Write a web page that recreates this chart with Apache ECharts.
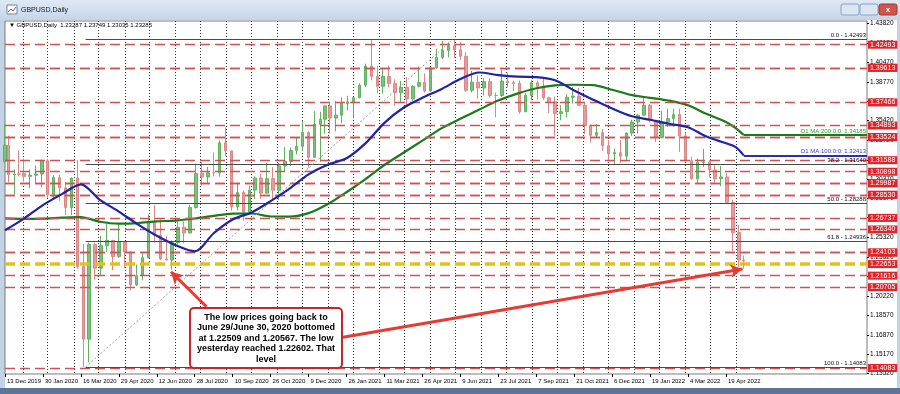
<!DOCTYPE html>
<html><head><meta charset="utf-8">
<script src="https://cdn.jsdelivr.net/npm/echarts@6/dist/echarts.min.js"></script>
<style>html,body{margin:0;padding:0;background:#c3d3e6;}#c{width:900px;height:394px;}</style>
</head><body><div id="c"></div>
<script>
const firstDay = '2019-12-13';
const lastBar = '2022-05-10';
const xLabelDates = ['2019-12-13','2020-01-30','2020-03-16','2020-04-29','2020-06-12','2020-07-28','2020-09-10','2020-10-26','2020-12-09','2021-01-26','2021-03-11','2021-04-26','2021-06-09','2021-07-23','2021-09-07','2021-10-21','2021-12-06','2022-01-19','2022-03-04','2022-04-19'];
// weekly candles (first = 13 Dec 2019 session, then weeks starting 16 Dec 2019 ... 9 May 2022)
const opens  = [1.3190,1.3330,1.3075,1.3080,1.3085,1.3060,1.3070,1.3080,1.3195,1.2900,1.3050,1.2960,1.2790,1.3045,1.2280,1.1650,1.2470,1.2265,1.2460,1.2505,1.2365,1.2490,1.2405,1.2120,1.2200,1.2355,1.2665,1.2550,1.2345,1.2335,1.2485,1.2620,1.2570,1.2790,1.3085,1.3055,1.3090,1.3090,1.3350,1.3280,1.2795,1.2920,1.2750,1.2940,1.3045,1.2915,1.3040,1.2940,1.3150,1.3190,1.3285,1.3320,1.3440,1.3225,1.3510,1.3555,1.3670,1.3565,1.3590,1.3690,1.3705,1.3740,1.3850,1.4015,1.3925,1.3840,1.3925,1.3865,1.3785,1.3830,1.3730,1.3840,1.3873,1.3800,1.4000,1.4090,1.4150,1.4190,1.4155,1.4100,1.3805,1.3875,1.3825,1.3880,1.3760,1.3760,1.3885,1.3870,1.3865,1.3620,1.3760,1.3870,1.3840,1.3740,1.3705,1.3605,1.3620,1.3745,1.3755,1.3675,1.3500,1.3415,1.3440,1.3325,1.3255,1.3265,1.3235,1.3435,1.3530,1.3590,1.3675,1.3545,1.3395,1.3530,1.3560,1.3595,1.3410,1.3195,1.3040,1.3180,1.3185,1.3115,1.3040,1.3055,1.2835,1.2573,1.2335];
const highs  = [1.3514,1.3413,1.3119,1.3285,1.3215,1.3119,1.3153,1.3207,1.3213,1.3070,1.3073,1.3010,1.3050,1.3200,1.2475,1.2486,1.2485,1.2545,1.2647,1.2510,1.2643,1.2500,1.2410,1.2296,1.2395,1.2730,1.2813,1.2688,1.2541,1.2505,1.2670,1.2670,1.2813,1.3170,1.3185,1.3143,1.3267,1.3370,1.3482,1.3285,1.3007,1.2936,1.2980,1.3060,1.3082,1.3177,1.3140,1.3177,1.3313,1.3310,1.3399,1.3540,1.3450,1.3625,1.3620,1.3670,1.3704,1.3711,1.3745,1.3758,1.3745,1.3865,1.4035,1.4241,1.4017,1.4000,1.4017,1.3900,1.3887,1.3920,1.3850,1.4010,1.3950,1.4005,1.4166,1.4234,1.4220,1.4249,1.4220,1.4135,1.3975,1.3935,1.3910,1.3910,1.3785,1.3984,1.3958,1.3890,1.3890,1.3780,1.3892,1.3890,1.3912,1.3750,1.3750,1.3675,1.3772,1.3834,1.3825,1.3700,1.3510,1.3514,1.3470,1.3373,1.3300,1.3375,1.3440,1.3550,1.3600,1.3749,1.3686,1.3546,1.3628,1.3645,1.3645,1.3645,1.3438,1.3230,1.3215,1.3298,1.3200,1.3165,1.3149,1.3090,1.2858,1.2638,1.2375];
const lows   = [1.3174,1.3010,1.2904,1.3060,1.3013,1.2960,1.2995,1.2965,1.2872,1.2870,1.2848,1.2725,1.2725,1.2260,1.1409,1.1450,1.2165,1.2205,1.2405,1.2247,1.2355,1.2265,1.2075,1.2110,1.2160,1.2350,1.2485,1.2335,1.2335,1.2252,1.2470,1.2480,1.2566,1.2780,1.2980,1.3004,1.3060,1.3058,1.3235,1.2762,1.2765,1.2676,1.2740,1.2863,1.2865,1.2912,1.2855,1.2855,1.3105,1.3150,1.3250,1.3280,1.3134,1.3225,1.3188,1.3430,1.3430,1.3450,1.3520,1.3630,1.3566,1.3735,1.3835,1.3890,1.3780,1.3778,1.3830,1.3670,1.3705,1.3670,1.3711,1.3830,1.3785,1.3790,1.3990,1.4075,1.4090,1.4085,1.4070,1.3790,1.3787,1.3731,1.3760,1.3740,1.3572,1.3750,1.3830,1.3800,1.3602,1.3615,1.3720,1.3726,1.3720,1.3608,1.3412,1.3545,1.3570,1.3690,1.3670,1.3425,1.3354,1.3400,1.3280,1.3195,1.3161,1.3175,1.3190,1.3410,1.3430,1.3585,1.3525,1.3358,1.3390,1.3490,1.3490,1.3272,1.3187,1.3030,1.3000,1.3140,1.3050,1.3005,1.2975,1.2826,1.2411,1.2275,1.2260];
const closes = [1.3330,1.3075,1.3080,1.3080,1.3060,1.3070,1.3080,1.3195,1.2900,1.3050,1.2960,1.2790,1.3045,1.2280,1.1650,1.2470,1.2265,1.2460,1.2505,1.2365,1.2490,1.2405,1.2120,1.2200,1.2355,1.2665,1.2550,1.2345,1.2335,1.2485,1.2620,1.2570,1.2790,1.3085,1.3055,1.3090,1.3090,1.3350,1.3280,1.2795,1.2920,1.2750,1.2940,1.3045,1.2915,1.3040,1.2940,1.3150,1.3190,1.3285,1.3320,1.3440,1.3225,1.3510,1.3555,1.3670,1.3565,1.3590,1.3690,1.3705,1.3740,1.3850,1.4015,1.3925,1.3840,1.3925,1.3865,1.3785,1.3830,1.3730,1.3840,1.3873,1.3800,1.4000,1.4090,1.4150,1.4190,1.4155,1.4100,1.3805,1.3875,1.3825,1.3880,1.3760,1.3760,1.3885,1.3870,1.3865,1.3620,1.3760,1.3870,1.3840,1.3740,1.3705,1.3605,1.3620,1.3745,1.3755,1.3675,1.3500,1.3415,1.3440,1.3325,1.3255,1.3265,1.3235,1.3435,1.3530,1.3590,1.3675,1.3545,1.3395,1.3530,1.3560,1.3595,1.3410,1.3195,1.3040,1.3180,1.3185,1.3115,1.3040,1.3055,1.2835,1.2573,1.2335,1.23285];
// moving averages
const maDates = ['2019-12-13','2020-01-08','2020-01-30','2020-02-21','2020-03-16','2020-04-07','2020-04-29','2020-05-21','2020-06-12','2020-07-06','2020-07-28','2020-08-19','2020-09-10','2020-10-02','2020-10-26','2020-11-17','2020-12-09','2021-01-04','2021-01-26','2021-02-17','2021-03-11','2021-04-02','2021-04-26','2021-05-18','2021-06-09','2021-07-01','2021-07-23','2021-08-16','2021-09-07','2021-09-29','2021-10-21','2021-11-12','2021-12-06','2021-12-28','2022-01-19','2022-02-10','2022-03-04','2022-03-28','2022-04-19','2022-04-29','2022-05-10'];
const ma100 = [1.2593,1.2694,1.2811,1.2906,1.2990,1.2856,1.2755,1.2644,1.2545,1.2463,1.2411,1.2567,1.2686,1.2747,1.2845,1.2954,1.3077,1.3161,1.3216,1.3345,1.3523,1.3654,1.3740,1.3815,1.3902,1.3959,1.3937,1.3923,1.3920,1.3892,1.3804,1.3724,1.3648,1.3582,1.3550,1.3515,1.3485,1.3402,1.3347,1.3315,1.32413];
const ma200 = [1.2696,1.2692,1.2694,1.2702,1.2707,1.2667,1.2650,1.2655,1.2670,1.2677,1.2695,1.2718,1.2737,1.2738,1.2712,1.2711,1.2741,1.2818,1.2922,1.3036,1.3158,1.3264,1.3369,1.3475,1.3558,1.3638,1.3716,1.3776,1.3823,1.3848,1.3853,1.3850,1.3810,1.3765,1.3740,1.3715,1.3675,1.3599,1.3531,1.3480,1.34185];
const ma100Last = 1.32413, ma200Last = 1.34185;
// horizontal lines
const redLevels = [1.42493,1.40167,1.39613,1.37466,1.34893,1.34110,1.33524,1.31588,1.30898,1.30499,1.29987,1.28860,1.28530,1.26737,1.26340,1.24460,1.24103,1.21616,1.20705,1.14083];
const yellowLevel = 1.22653;
const bidLevel = 1.23285;
const fibLevels = ['0.0','38.2','50.0','61.8','100.0'];
const fibPrices = [1.42493,1.31640,1.28288,1.24936,1.14083];
const fibFrom = '2020-03-20', fibTo = '2021-06-01';
const yTicks = [1.43820,1.42120,1.40470,1.38770,1.37120,1.35420,1.33720,1.32020,1.30370,1.28670,1.27020,1.25320,1.23620,1.21920,1.20220,1.18570,1.16870,1.15170,1.13520];
const headerText = '\u25BC GBPUSD,Daily  1.23287 1.23749 1.23035 1.23285';
const noteLines = ['The low prices going back to','June 29/June 30, 2020 bottomed','at 1.22509 and 1.20567. The low','yesterday reached 1.22602. That','level'];
// annotation arrows: [tailDate, tailPrice, tipDate, tipPrice]
const arrows = [['2020-08-11',1.1931,'2020-06-30',1.2234],['2021-01-21',1.1666,'2022-05-09',1.2258]];

// ===== trading-day categories (MT4 style, no weekends / 25 Dec / 1 Jan) =====
const N_CATS = 728;
const ymd = d => d.toISOString().slice(0,10);
const cats = [];
(function(){
  let t = Date.UTC(2019,11,13);
  while (cats.length < N_CATS) {
    const d = new Date(t), wd = d.getUTCDay(), s = ymd(d), md = s.slice(5);
    if (wd !== 0 && wd !== 6 && md !== '12-25' && md !== '01-01') cats.push(s);
    t += 86400000;
  }
})();
const idxOf = s => { for (let i = 0; i < cats.length; i++) if (cats[i] >= s) return i; return cats.length - 1; };
const lastIdx = idxOf(lastBar);
const candle = cats.map(() => ['-','-','-','-']);
for (let k = 0; k < opens.length; k++) {
  const s = k === 0 ? firstDay : ymd(new Date(Date.UTC(2019,11,18) + (k-1)*7*86400000));
  const i = Math.min(idxOf(s), lastIdx);
  candle[i] = [opens[k], closes[k], lows[k], highs[k]];
}
const labelSet = new Set(xLabelDates);
const gridSet = new Set();
for (let k = 0; ; k++) { const i = Math.round(14.7 + 21.5*k); if (i > lastIdx) break; gridSet.add(i); }
const MON = ['Jan','Feb','Mar','Apr','May','Jun','Jul','Aug','Sep','Oct','Nov','Dec'];
const fmtDate = v => { const p = v.split('-'); return (+p[2]) + ' ' + MON[+p[1]-1] + ' ' + p[0]; };
const FONT = 'Liberation Sans, Arial, sans-serif';
const boxLabel = (bg) => ({show:true, position:'end', distance:1, color:'#fff', backgroundColor:bg, padding:[1,2,0,2], fontSize:7, fontFamily:FONT});
const hLines = redLevels.map(p => ({yAxis:p, lineStyle:{color:'#cf5353', width:1.3, type:[10,5]}, label:Object.assign(boxLabel('#e3232a'), {formatter: p.toFixed(5)})}));
hLines.push({yAxis:yellowLevel, lineStyle:{color:'#e2c21a', width:3.5, type:[10,5]}, label:Object.assign(boxLabel('#e3232a'), {formatter: yellowLevel.toFixed(5)})});
hLines.push({yAxis:bidLevel, lineStyle:{opacity:0}, label:Object.assign(boxLabel('#000'), {formatter: bidLevel.toFixed(5)})});
const fibStartI = idxOf(fibFrom);
const fibSegs = fibPrices.map((p,j) => [
  {coord:[fibStartI, p], lineStyle:{color:'#4a4a4a', width:1, type:'solid'},
   label:{show:true, position:'insideEndTop', distance:1, formatter: fibLevels[j] + ' - ' + p.toFixed(5), color:'#111', fontSize:6, fontFamily:FONT}},
  {coord:[N_CATS-1, p]}
]);
fibSegs.push([{coord:[fibStartI, fibPrices[4]], lineStyle:{color:'#a89a9a', width:1, type:[2,2]}, label:{show:false}}, {coord:[idxOf(fibTo), fibPrices[0]]}]);
const maIdx = maDates.map(idxOf);
const maLabel = (txt, col) => ({show:true, position:'insideEndTop', distance:1, formatter: txt, color: col, fontSize:6, fontFamily:FONT});

const chart = echarts.init(document.getElementById('c'), null, {renderer:'canvas'});
chart.setOption({
  animation:false,
  grid:{left:5, right:33, top:21, bottom:20, show:true, borderColor:'#7a7a7a', borderWidth:1, backgroundColor:'#fff'},
  xAxis:{type:'category', data:cats, boundaryGap:false,
    axisLine:{show:false},
    axisTick:{show:true, interval:(i,v)=>labelSet.has(v), length:3, lineStyle:{color:'#000'}},
    axisLabel:{interval:(i,v)=>labelSet.has(v), formatter:fmtDate, fontSize:6, color:'#000', align:'left', margin:4, padding:[0,0,0,2], fontFamily:FONT},
    splitLine:{show:true, interval:(i)=>gridSet.has(i), lineStyle:{color:'#333', width:1, type:[1,2]}}},
  yAxis:{type:'value', position:'right', min:1.13482, max:1.44052, scale:true,
    axisLine:{show:false}, splitLine:{show:false},
    axisTick:{show:true, length:2, customValues:yTicks, lineStyle:{color:'#000'}},
    axisLabel:{customValues:yTicks, formatter:v=>v.toFixed(5), fontSize:6.5, color:'#000', margin:3, fontFamily:FONT}},
  series:[
    {type:'line', data:[], z:1, silent:true,
      markLine:{silent:true, symbol:['none','none'], animation:false, data:hLines.concat(fibSegs)}},
    {type:'candlestick', data:candle, large:false, barWidth:3, z:3,
      itemStyle:{color:'#7cc27c', color0:'#e49c9c', borderColor:'#62b062', borderColor0:'#dc8787', borderWidth:1}},
    {type:'line', data:maIdx.map((i,k)=>[cats[i], ma200[k]]), smooth:0.3, symbol:'none', z:4,
      lineStyle:{color:'#1b7a1b', width:2.2},
      markLine:{silent:true, symbol:['none','none'], data:[[{coord:[lastIdx, ma200Last], lineStyle:{color:'#1b7a1b', width:2.2, type:'solid'}, label:maLabel('D1 MA:200:0:0: ' + ma200Last.toFixed(5), '#2f9a2f')},{coord:[N_CATS-1, ma200Last]}]]}},
    {type:'line', data:maIdx.map((i,k)=>[cats[i], ma100[k]]), smooth:0.3, symbol:'none', z:5,
      lineStyle:{color:'#1d24a6', width:2.2},
      markLine:{silent:true, symbol:['none','none'], data:[[{coord:[lastIdx, ma100Last], lineStyle:{color:'#2a2fb0', width:2, type:'solid'}, label:maLabel('D1 MA:100:0:0: ' + ma100Last.toFixed(5), '#3a3ec8')},{coord:[N_CATS-1, ma100Last]}]]}},
    {type:'line', data:[], z:10, silent:true,
      markLine:{silent:true, symbol:['none','arrow'], symbolSize:[10,12], label:{show:false},
        lineStyle:{color:'#e63a33', width:3, type:'solid'},
        data:arrows.map(a=>[{coord:[idxOf(a[0]), a[1]]},{coord:[idxOf(a[2]), a[3]]}])}}
  ],
  graphic:[
    {type:'rect', z:-10, shape:{x:0,y:0,width:900,height:20}, style:{fill:new echarts.graphic.LinearGradient(0,0,0,1,[{offset:0,color:'#dfe9f5'},{offset:1,color:'#c4d5ea'}])}},
    {type:'rect', z:-10, shape:{x:5,y:20,width:892,height:368}, style:{fill:'#fff'}},
    {type:'rect', z:-10, shape:{x:0,y:388,width:900,height:6}, style:{fill:'#5d7597'}},
    {type:'rect', z:1, shape:{x:7,y:5,width:10,height:9}, style:{fill:'#fff', stroke:'#6d86a8', lineWidth:1}},
    {type:'polyline', z:2, shape:{points:[[8,12],[11,9],[13,11],[16,7]]}, style:{stroke:'#d33', lineWidth:1, fill:null}},
    {type:'text', z:2, style:{x:21, y:10, text:'GBPUSD,Daily', font:'7px '+FONT, fill:'#1a1a1a', textVerticalAlign:'middle'}},
    {type:'rect', z:2, shape:{x:841,y:4,width:18,height:11,r:2}, style:{fill:'#dbe6f2', stroke:'#8aa1bf'}},
    {type:'rect', z:2, shape:{x:860,y:4,width:18,height:11,r:2}, style:{fill:'#dbe6f2', stroke:'#8aa1bf'}},
    {type:'rect', z:2, shape:{x:879,y:4,width:18,height:11,r:2}, style:{fill:'#d2544a', stroke:'#9a3a33'}},
    {type:'text', z:3, style:{x:888, y:9.5, text:'x', font:'bold 8px '+FONT, fill:'#fff', textAlign:'center', textVerticalAlign:'middle'}},
    {type:'text', z:50, style:{x:9, y:25, text:headerText, font:'6px '+FONT, fill:'#000', textVerticalAlign:'middle'}},
    {type:'rect', z:60, shape:{x:190,y:308,width:152,height:60,r:4}, style:{fill:'#fff', stroke:'#c3262c', lineWidth:2}},
    {type:'text', z:61, style:{x:266, y:312, text:noteLines.join('\n'), font:'bold 9px '+FONT, lineHeight:10.5, fill:'#000', textAlign:'center'}}
  ]
});
</script></body></html>
